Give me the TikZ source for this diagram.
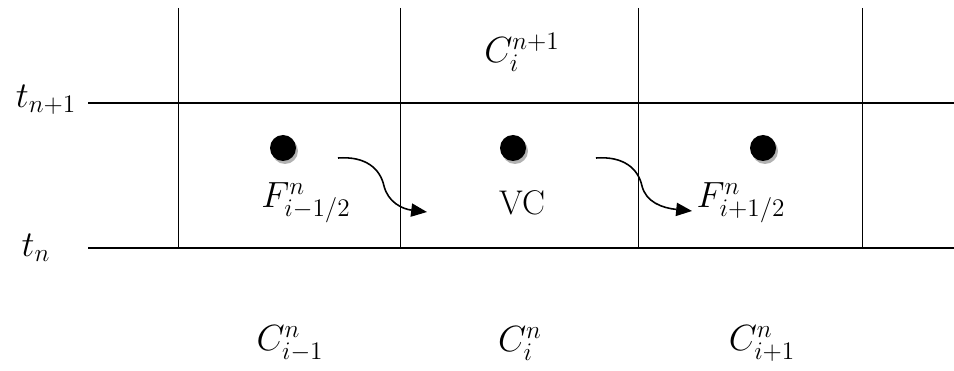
\documentclass[tikz,border=0pt]{standalone}
\usetikzlibrary{arrows.meta}
\begin{document}
\begin{tikzpicture}[x=0.02cm,y=-0.02cm,
  vline/.style={line width=0.5pt},
  hline/.style={line width=1.1pt},
  lab/.style={inner sep=0pt,font=\fontsize{19.5}{23}\selectfont},
  flow/.style={line width=0.9pt,-{Triangle[length=9pt,width=7.5pt]}},
  dotshadow/.style={fill=black!30},
  dotfill/.style={fill=black}]
\useasboundingbox (0,0) rectangle (954,371);
% grid
\foreach \x/\n in {178/a,400/b,638/c,862/d}{
  \coordinate (top\n) at (\x,8);
  \coordinate (bot\n) at (\x,248);
  \draw[vline] (top\n) -- (bot\n);
}
\coordinate (h1l) at (88,103); \coordinate (h1r) at (954,103);
\coordinate (h0l) at (88,248); \coordinate (h0r) at (954,248);
\draw[hline] (h1l) -- (h1r);
\draw[hline] (h0l) -- (h0r);
% dots
\foreach \x/\n in {283/1,513/2,763/3}{
  \fill[dotshadow] (\x+2,148+3) circle (13);
  \node[circle,dotfill,minimum size=26*0.02cm,inner sep=0pt] (dot\n) at (\x,148) {};
}
% labels
\node[lab] (tn1) at (46,100) {$t_{n+1}$};
\node[lab] (tn) at (36,248) {$t_{n}$};
\node[lab] (cnp1) at (522,52) {$C_i^{n+1}$};
\node[lab] (fl) at (306,203) {$F^n_{i-1/2}$};
\node[lab] (vc) at (522,203) {VC};
\node[lab] (fr) at (741,203) {$F^n_{i+1/2}$};
\node[lab] (cim1) at (290,344) {$C^n_{i-1}$};
\node[lab] (ci) at (520,344) {$C^n_{i}$};
\node[lab] (cip1) at (762,344) {$C^n_{i+1}$};
% arrows
\coordinate (a1s) at (338,158); \coordinate (a1e) at (427,212);
\coordinate (a2s) at (596,158); \coordinate (a2e) at (692,211);
\draw[flow] (a1s) .. controls (365,156) and (380,168) .. (384,186)
  .. controls (388,202) and (402,209) .. (a1e);
\draw[flow] (a2s) .. controls (623,156) and (638,168) .. (642,186)
  .. controls (646,202) and (662,208) .. (a2e);
\end{tikzpicture}
\end{document}
